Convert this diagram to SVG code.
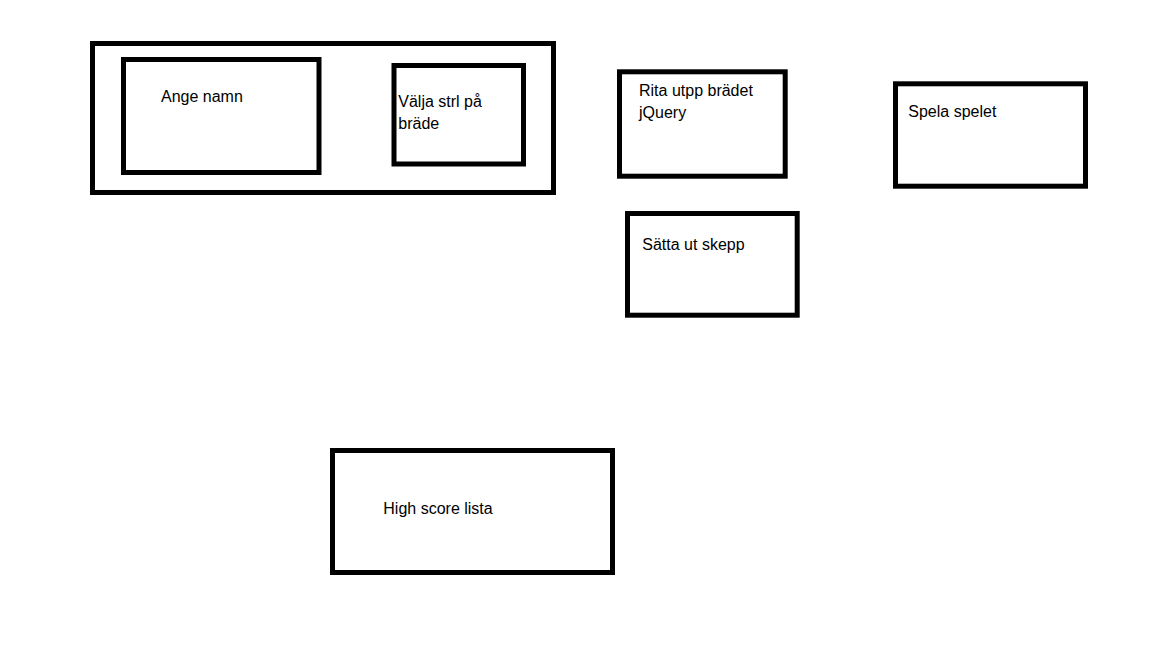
<svg xmlns="http://www.w3.org/2000/svg" width="1152" height="648" viewBox="0 0 1152 648">
  <style>
    .box { fill: none; stroke: #000; stroke-width: 5; }
    .lbl { font-family: "Liberation Sans", Arial, sans-serif; font-size: 16px; fill: #000; }
  </style>
  <rect width="1152" height="648" fill="#fff"/>
  <g id="group-start">
    <rect class="box" x="92.5" y="43.5" width="461" height="149"/>
  </g>
  <g id="node-ange-namn">
    <rect class="box" x="123.5" y="59.5" width="195.5" height="113"/>
    <text class="lbl" x="161" y="101.7">Ange namn</text>
  </g>
  <g id="node-valja-strl">
    <rect class="box" x="394" y="65.5" width="129.5" height="98.5"/>
    <text class="lbl" x="398.3" y="106.7">Välja strl på</text>
    <text class="lbl" x="398.3" y="129">bräde</text>
  </g>
  <g id="node-rita">
    <rect class="box" x="619.5" y="71.8" width="165.7" height="104.4"/>
    <text class="lbl" x="639" y="95.7">Rita utpp brädet</text>
    <text class="lbl" x="639" y="118.3">jQuery</text>
  </g>
  <g id="node-spela">
    <rect class="box" x="895.5" y="83.8" width="190" height="102.4"/>
    <text class="lbl" x="908.3" y="116.7">Spela spelet</text>
  </g>
  <g id="node-satta">
    <rect class="box" x="627.5" y="213.5" width="169.7" height="101.7"/>
    <text class="lbl" x="642.3" y="250">Sätta ut skepp</text>
  </g>
  <g id="node-highscore">
    <rect class="box" x="332.5" y="450.5" width="280" height="122"/>
    <text class="lbl" x="383.3" y="514">High score lista</text>
  </g>
  <g id="connectors"></g>
</svg>
